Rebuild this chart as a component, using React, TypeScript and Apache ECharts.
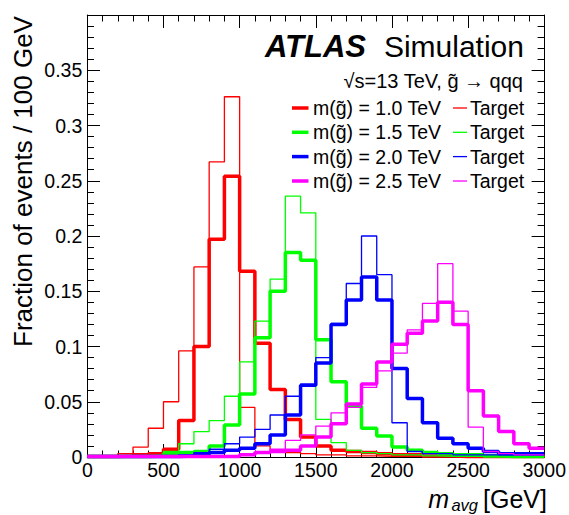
import React, { useEffect, useRef } from "react";
import * as echarts from "echarts";

// ---- binning / axes ----
const BIN_WIDTH = 100; // GeV
const X_MIN = 0;
const X_MAX = 3000;
const X_INTERVAL = 500;
const Y_MIN = 0;
const Y_MAX = 0.4;
const Y_INTERVAL = 0.05;

// ---- histogram contents (fraction of events per 100 GeV bin, 0-3000 GeV) ----
const recoM10 = [0.0005, 0.0005, 0.001, 0.002, 0.003, 0.007, 0.033, 0.1, 0.197, 0.254, 0.168, 0.103, 0.061, 0.034, 0.018, 0.01, 0.006, 0.005, 0.004, 0.003, 0.002, 0.002, 0.001, 0.001, 0.0005, 0.0005, 0.0005, 0.0005, 0.0005, 0.0005];
const targetM10 = [0.0005, 0.001, 0.003, 0.009, 0.026, 0.05, 0.096, 0.172, 0.267, 0.326, 0.045, 0.01, 0.006, 0.004, 0.003, 0.002, 0.002, 0.001, 0.001, 0.0005, 0.0005, 0.0005, 0.0005, 0.0005, 0.0005, 0.0005, 0.0005, 0.0005, 0.0005, 0.0005];
const recoM15 = [0.0005, 0.0005, 0.0005, 0.0005, 0.001, 0.003, 0.004, 0.005, 0.01, 0.029, 0.057, 0.108, 0.15, 0.185, 0.178, 0.106, 0.068, 0.046, 0.026, 0.019, 0.009, 0.006, 0.004, 0.003, 0.002, 0.002, 0.001, 0.0005, 0.0005, 0.0005];
const targetM15 = [0.0005, 0.0005, 0.0005, 0.0005, 0.001, 0.005, 0.012, 0.023, 0.033, 0.055, 0.086, 0.123, 0.161, 0.236, 0.221, 0.034, 0.013, 0.006, 0.004, 0.003, 0.002, 0.002, 0.001, 0.0005, 0.0005, 0.0005, 0.0005, 0.0005, 0.0005, 0.0005];
const recoM20 = [0.0005, 0.0005, 0.0005, 0.0005, 0.0005, 0.0005, 0.001, 0.002, 0.004, 0.006, 0.008, 0.012, 0.02, 0.038, 0.065, 0.085, 0.12, 0.142, 0.163, 0.142, 0.08, 0.053, 0.031, 0.017, 0.012, 0.008, 0.005, 0.003, 0.003, 0.003];
const targetM20 = [0.0005, 0.0005, 0.0005, 0.0005, 0.0005, 0.0005, 0.002, 0.004, 0.007, 0.012, 0.018, 0.025, 0.038, 0.055, 0.066, 0.09, 0.121, 0.157, 0.2, 0.165, 0.031, 0.005, 0.003, 0.003, 0.002, 0.002, 0.002, 0.002, 0.002, 0.002];
const recoM25 = [0.0005, 0.0005, 0.0005, 0.0005, 0.0005, 0.0005, 0.0005, 0.0005, 0.0005, 0.0005, 0.002, 0.004, 0.005, 0.006, 0.01, 0.018, 0.03, 0.048, 0.066, 0.086, 0.102, 0.112, 0.123, 0.14, 0.12, 0.06, 0.037, 0.023, 0.012, 0.008];
const targetM25 = [0.0005, 0.0005, 0.0005, 0.0005, 0.0005, 0.0005, 0.0005, 0.0005, 0.0005, 0.0005, 0.002, 0.004, 0.007, 0.015, 0.02, 0.028, 0.04, 0.045, 0.063, 0.078, 0.094, 0.115, 0.139, 0.175, 0.132, 0.027, 0.005, 0.003, 0.002, 0.002];

// ---- labels ----
const gluinoMasses = ["1.0", "1.5", "2.0", "2.5"];
const colors = ["#ff0000", "#00ff00", "#0000ff", "#ff00ff"];
const recoSets = [recoM10, recoM15, recoM20, recoM25];
const targetSets = [targetM10, targetM15, targetM20, targetM25];
const yTitle = "Fraction of events / 100 GeV";
const energyText = "\u221As=13 TeV, g\u0303 \u2192 qqq";
const targetLabel = "Target";

const FONT = "'Liberation Sans', Arial, Helvetica, sans-serif";
const THICK = 3.5;
const THIN = 1.3;

function histPoints(vals: number[]) {
  const pts = vals.map((v, i) => [X_MIN + i * BIN_WIDTH, v]);
  pts.push([X_MIN + vals.length * BIN_WIDTH, vals[vals.length - 1]]);
  return pts;
}

export default function App() {
  const ref = useRef<HTMLDivElement>(null);

  useEffect(() => {
    document.body.style.margin = "0";
    if (!ref.current) return;
    const chart = echarts.init(ref.current, undefined, { renderer: "svg" });

    const series: any[] = [];
    for (let k = 0; k < 4; k++) {
      series.push({
        type: "line",
        name: `Target ${gluinoMasses[k]}`,
        data: histPoints(targetSets[k]),
        step: "end",
        symbol: "none",
        showSymbol: false,
        clip: false,
        lineStyle: { color: colors[k], width: THIN },
        itemStyle: { color: colors[k] },
      });
      series.push({
        type: "line",
        name: `m(g\u0303) = ${gluinoMasses[k]} TeV`,
        data: histPoints(recoSets[k]),
        step: "end",
        symbol: "none",
        showSymbol: false,
        clip: false,
        lineStyle: { color: colors[k], width: THICK },
        itemStyle: { color: colors[k] },
      });
    }

    const tickCommon = (majorLen: number, minorLen: number) => ({
      axisLine: { show: true, onZero: false, lineStyle: { color: "#000", width: 1 } },
      axisTick: { show: true, inside: true, length: majorLen, lineStyle: { color: "#000", width: 1 } },
      minorTick: { show: true, splitNumber: 5, length: minorLen, lineStyle: { color: "#000", width: 1 } },
      splitLine: { show: false },
      minorSplitLine: { show: false },
    });

    const graphic: any[] = [];
    // ATLAS Simulation
    graphic.push({
      type: "text", x: 265, y: 46,
      style: { text: "ATLAS", fontSize: 31, fontWeight: "bold", fontStyle: "italic", fontFamily: FONT, fill: "#000", textAlign: "left", textVerticalAlign: "middle" },
    });
    graphic.push({
      type: "text", x: 524, y: 46,
      style: { text: "Simulation", fontSize: 30, fontFamily: FONT, fill: "#000", textAlign: "right", textVerticalAlign: "middle" },
    });
    graphic.push({
      type: "text", x: 523, y: 81,
      style: { text: energyText, fontSize: 20, fontFamily: FONT, fill: "#000", textAlign: "right", textVerticalAlign: "middle" },
    });
    // legend
    const rowY = [108, 132.3, 156.6, 181];
    for (let k = 0; k < 4; k++) {
      const y = rowY[k];
      graphic.push({ type: "line", shape: { x1: 292, y1: y, x2: 308.5, y2: y }, style: { stroke: colors[k], lineWidth: THICK } });
      graphic.push({
        type: "text", x: 313, y: y,
        style: { text: `m(g\u0303) = ${gluinoMasses[k]} TeV`, fontSize: 19.5, fontFamily: FONT, fill: "#000", textAlign: "left", textVerticalAlign: "middle" },
      });
      graphic.push({ type: "line", shape: { x1: 453, y1: y, x2: 467, y2: y }, style: { stroke: colors[k], lineWidth: THIN } });
      graphic.push({
        type: "text", x: 470, y: y,
        style: { text: targetLabel, fontSize: 19.5, fontFamily: FONT, fill: "#000", textAlign: "left", textVerticalAlign: "middle" },
      });
    }
    // axis titles
    graphic.push({
      type: "text", x: 23, y: 347, rotation: Math.PI / 2,
      style: { text: yTitle, fontSize: 26, fontFamily: FONT, fill: "#000", textAlign: "left", textVerticalAlign: "middle" },
    });
    graphic.push({
      type: "text", x: 547, y: 499,
      style: { text: "[GeV]", fontSize: 25, fontFamily: FONT, fill: "#000", textAlign: "right", textVerticalAlign: "middle" },
    });
    graphic.push({
      type: "text", x: 478, y: 505,
      style: { text: "avg", fontSize: 16.5, fontStyle: "italic", fontFamily: FONT, fill: "#000", textAlign: "right", textVerticalAlign: "middle" },
    });
    graphic.push({
      type: "text", x: 449, y: 499,
      style: { text: "m", fontSize: 25, fontStyle: "italic", fontFamily: FONT, fill: "#000", textAlign: "right", textVerticalAlign: "middle" },
    });

    chart.setOption({
      animation: false,
      backgroundColor: "#fff",
      grid: { left: 87.3, right: 21.7, top: 15, bottom: 58, containLabel: false },
      xAxis: [
        {
          type: "value", min: X_MIN, max: X_MAX, interval: X_INTERVAL, position: "bottom",
          ...tickCommon(13, 6.5),
          axisLabel: { show: true, fontSize: 19.5, fontFamily: FONT, color: "#000", margin: 3, formatter: (v: number) => String(v) },
        },
        {
          type: "value", min: X_MIN, max: X_MAX, interval: X_INTERVAL, position: "top",
          ...tickCommon(13, 6.5),
          axisLabel: { show: false },
        },
      ],
      yAxis: [
        {
          type: "value", min: Y_MIN, max: Y_MAX, interval: Y_INTERVAL, position: "left",
          ...tickCommon(12.7, 6.7),
          axisLabel: {
            show: true, fontSize: 19.5, fontFamily: FONT, color: "#000", margin: 5, showMaxLabel: false,
            formatter: (v: number) => (v === 0 ? "0" : String(Math.round(v * 100) / 100)),
          },
        },
        {
          type: "value", min: Y_MIN, max: Y_MAX, interval: Y_INTERVAL, position: "right",
          ...tickCommon(12.7, 6.7),
          axisLabel: { show: false },
        },
      ],
      series,
      graphic,
    });

    return () => chart.dispose();
  }, []);

  return (
    <div
      ref={ref}
      style={{ position: "fixed", left: 0, top: 0, width: 569, height: 515, background: "#fff" }}
    />
  );
}
